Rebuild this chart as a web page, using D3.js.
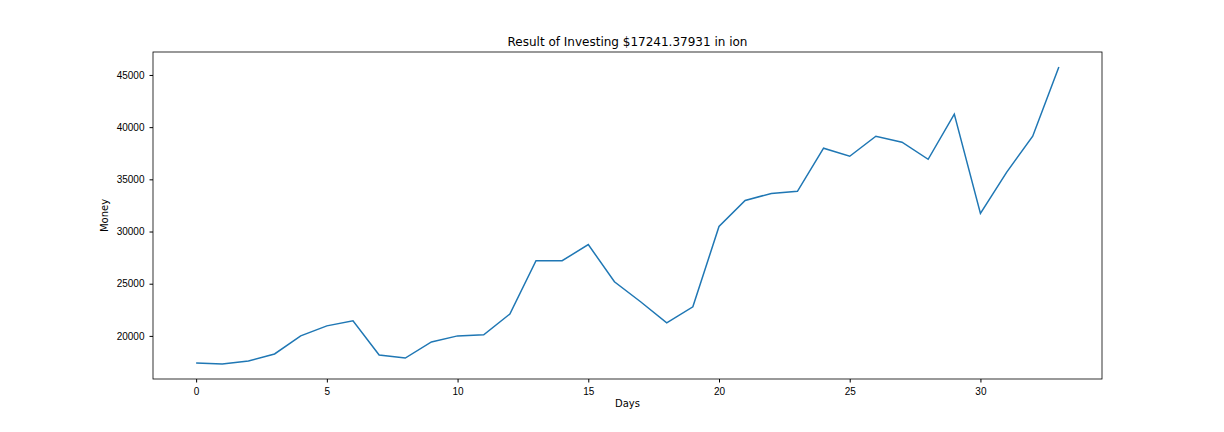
<!DOCTYPE html>
<html>
<head>
<meta charset="utf-8">
<style>
  html, body { margin: 0; padding: 0; background: #fff; }
  svg { display: block; font-family: "DejaVu Sans", sans-serif; }
</style>
</head>
<body>
<svg width="1224" height="432"></svg>
<script src="https://d3js.org/d3.v7.min.js"></script>
<script>
const days = d3.range(34);
const money = [17400, 17300, 17600, 18270, 20000, 20960, 21440, 18170, 17880, 19420,
  20000, 20100, 22100, 27200, 27200, 28750, 25190, 23270, 21250, 22790,
  30480, 32980, 33650, 33850, 37980, 37210, 39130, 38560, 36920, 41250,
  31730, 35670, 39130, 45770];
const xTicks = [0, 5, 10, 15, 20, 25, 30];
const yTicks = [20000, 25000, 30000, 35000, 40000, 45000];

const svg = d3.select("svg");
const m = {left: 153, right: 1102, top: 52, bottom: 379};

const x = d3.scaleLinear().domain([-1.65, 34.65]).range([m.left, m.right]);
const y = d3.scaleLinear().domain([15870, 47200]).range([m.bottom, m.top]);

svg.append("g")
  .attr("transform", `translate(0,${m.bottom})`)
  .call(d3.axisBottom(x).tickValues(xTicks).tickSize(3.5).tickPadding(5).tickFormat(d3.format("d")))
  .call(g => g.select(".domain").remove());

svg.append("g")
  .attr("transform", `translate(${m.left},0)`)
  .call(d3.axisLeft(y).tickValues(yTicks).tickSize(3.5).tickPadding(5).tickFormat(d3.format("d")))
  .call(g => g.select(".domain").remove());

svg.selectAll(".tick text").attr("font-size", 10).attr("fill", "#000");
svg.selectAll(".tick line").attr("stroke", "#000");

svg.append("rect")
  .attr("x", m.left).attr("y", m.top)
  .attr("width", m.right - m.left).attr("height", m.bottom - m.top)
  .attr("fill", "none").attr("stroke", "#000").attr("stroke-width", 0.8);

svg.append("path")
  .datum(days)
  .attr("fill", "none")
  .attr("stroke", "#1f77b4")
  .attr("stroke-width", 1.5)
  .attr("d", d3.line().x(d => x(d)).y(d => y(money[d])));

svg.append("text")
  .attr("x", (m.left + m.right) / 2).attr("y", 46)
  .attr("text-anchor", "middle").attr("font-size", 12)
  .text("Result of Investing $17241.37931 in ion");

svg.append("text")
  .attr("x", (m.left + m.right) / 2).attr("y", 407)
  .attr("text-anchor", "middle").attr("font-size", 10)
  .text("Days");

svg.append("text")
  .attr("transform", `translate(108,${(m.top + m.bottom) / 2}) rotate(-90)`)
  .attr("text-anchor", "middle").attr("font-size", 10)
  .text("Money");
</script>
</body>
</html>
